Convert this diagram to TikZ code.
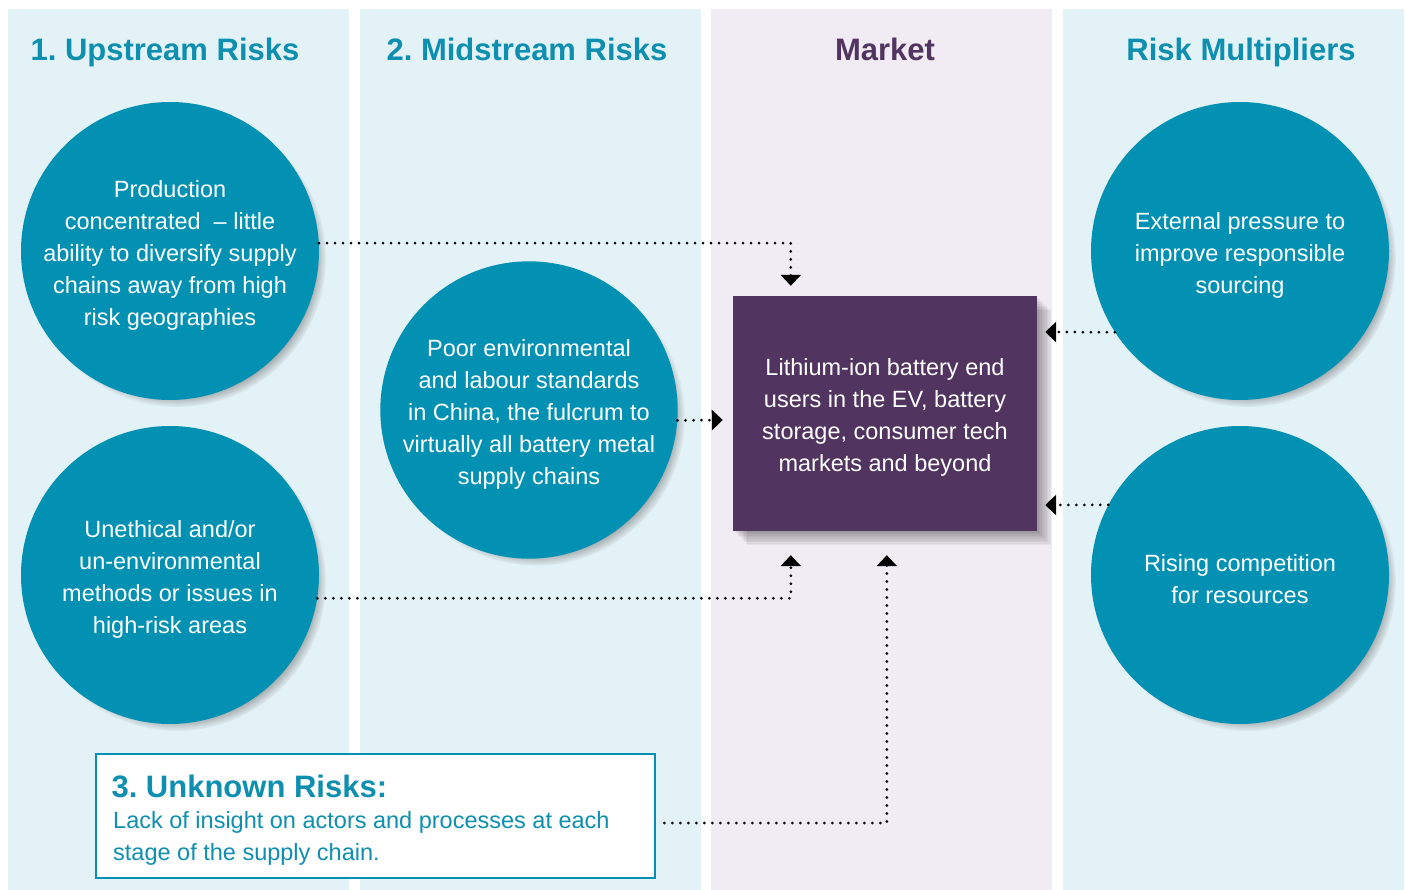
\documentclass[tikz,border=0pt]{standalone}
\usepackage{fontspec}
\setmainfont{Liberation Sans}
\frenchspacing
\usetikzlibrary{shadows,arrows.meta,calc,fadings}
\definecolor{teal}{HTML}{0291B3}
\definecolor{headteal}{HTML}{0E8FB0}
\definecolor{bgblue}{HTML}{E3F2F7}
\definecolor{bglav}{HTML}{F1ECF4}
\definecolor{plum}{HTML}{513560}
\newcommand{\lowerby}{\rule{0pt}{25pt}}
\begin{document}
\begin{tikzpicture}[x=1pt,y=-1pt,
  col/.style={fill=#1,draw=none},
  head/.style={font=\fontsize{31}{36}\selectfont\bfseries,text=headteal,anchor=base},
  risk/.style={circle,fill=teal,minimum size=298pt,inner sep=0pt,text=white,align=center,
    font=\fontsize{23.5}{32}\selectfont,
    circular drop shadow={shadow xshift=7pt,shadow yshift=-7pt,shadow scale=1.0,fill=black!60}},
  dotline/.style={draw=black,line width=3pt,line cap=round,dash pattern=on 0pt off 8pt,
    -{Triangle[width=20pt,length=11pt]}},
]
\useasboundingbox (0,0) rectangle (1406,890);
\fill[white] (0,0) rectangle (1406,890);
% columns
\fill[col=bgblue] (8,9) rectangle (349,890);
\fill[col=bgblue] (360,9) rectangle (701,890);
\fill[col=bglav] (711,9) rectangle (1052,890);
\fill[col=bgblue] (1063,9) rectangle (1404,890);
% headings
\node[head] (h1) at (165,61) {1. Upstream Risks};
\node[head] (h2) at (527,61) {2. Midstream Risks};
\node[head,text=plum] (h3) at (885,61) {Market};
\node[head] (h4) at (1241,61) {Risk Multipliers};
% circles
\node[risk] (c1) at (170,251) {\lowerby Production\\concentrated\ \ – little\\ability to diversify supply\\chains away from high\\risk geographies};
\node[risk] (c2) at (170,575) {\lowerby Unethical and/or\\un-environmental\\methods or issues in\\high-risk areas};
\node[risk,minimum size=294pt] (c3) at (529,410) {\lowerby Poor environmental\\and labour standards\\in China, the fulcrum to\\virtually all battery metal\\supply chains};
\node[risk] (r1) at (1240,251) {\lowerby External pressure to\\improve responsible\\sourcing};
\node[risk] (r2) at (1240,575) {\lowerby Rising competition\\for resources};
% market box shadow (soft)
\foreach \i in {1,...,9} {
  \fill[black,opacity=0.045] (733+\i*1.6,296+\i*1.6) rectangle (1037+\i*1.6,531+\i*1.6);
}
% market box
\node[fill=plum,minimum width=304pt,minimum height=235pt,inner sep=0pt,text=white,align=center,
  font=\fontsize{23.5}{32}\selectfont] (m) at (885,413.5)
  {\lowerby Lithium-ion battery end\\users in the EV, battery\\storage, consumer tech\\markets and beyond};
% unknown box
\node[draw=teal,line width=2.5pt,fill=white,minimum width=559pt,minimum height=124pt,inner sep=0pt] (u) at (375.5,816) {};
\node[anchor=west,text=headteal,font=\fontsize{31}{36}\selectfont\bfseries] (ut) at (108,786) {3. Unknown Risks:};
\node[anchor=north west,text=headteal,align=left,font=\fontsize{23.5}{32}\selectfont,inner sep=0pt] (ub) at (113,811)
  {Lack of insight on actors and processes at each\\stage of the supply chain.};
% connectors
\coordinate (t1) at ($(m.north west)+(58,-10)$);
\coordinate (t2) at ($(m.south west)+(58,24)$);
\coordinate (t3) at ($(m.south west)+(154,24)$);
\draw[dotline] (c1.3.5) -| (t1);
\draw[dotline] (c3.-4) -- ($(m.west)+(-10,6.5)$);
\draw[dotline] (c2.-9) -| (t2);
\draw[dotline] ($(u.east)+(8,7)$) -| (t3);
\draw[dotline] (r1.213) -- ($(m.east)+(8,-81.5)$);
\draw[dotline] (r2.152) -- ($(m.east)+(8,91.5)$);
\end{tikzpicture}
\end{document}
